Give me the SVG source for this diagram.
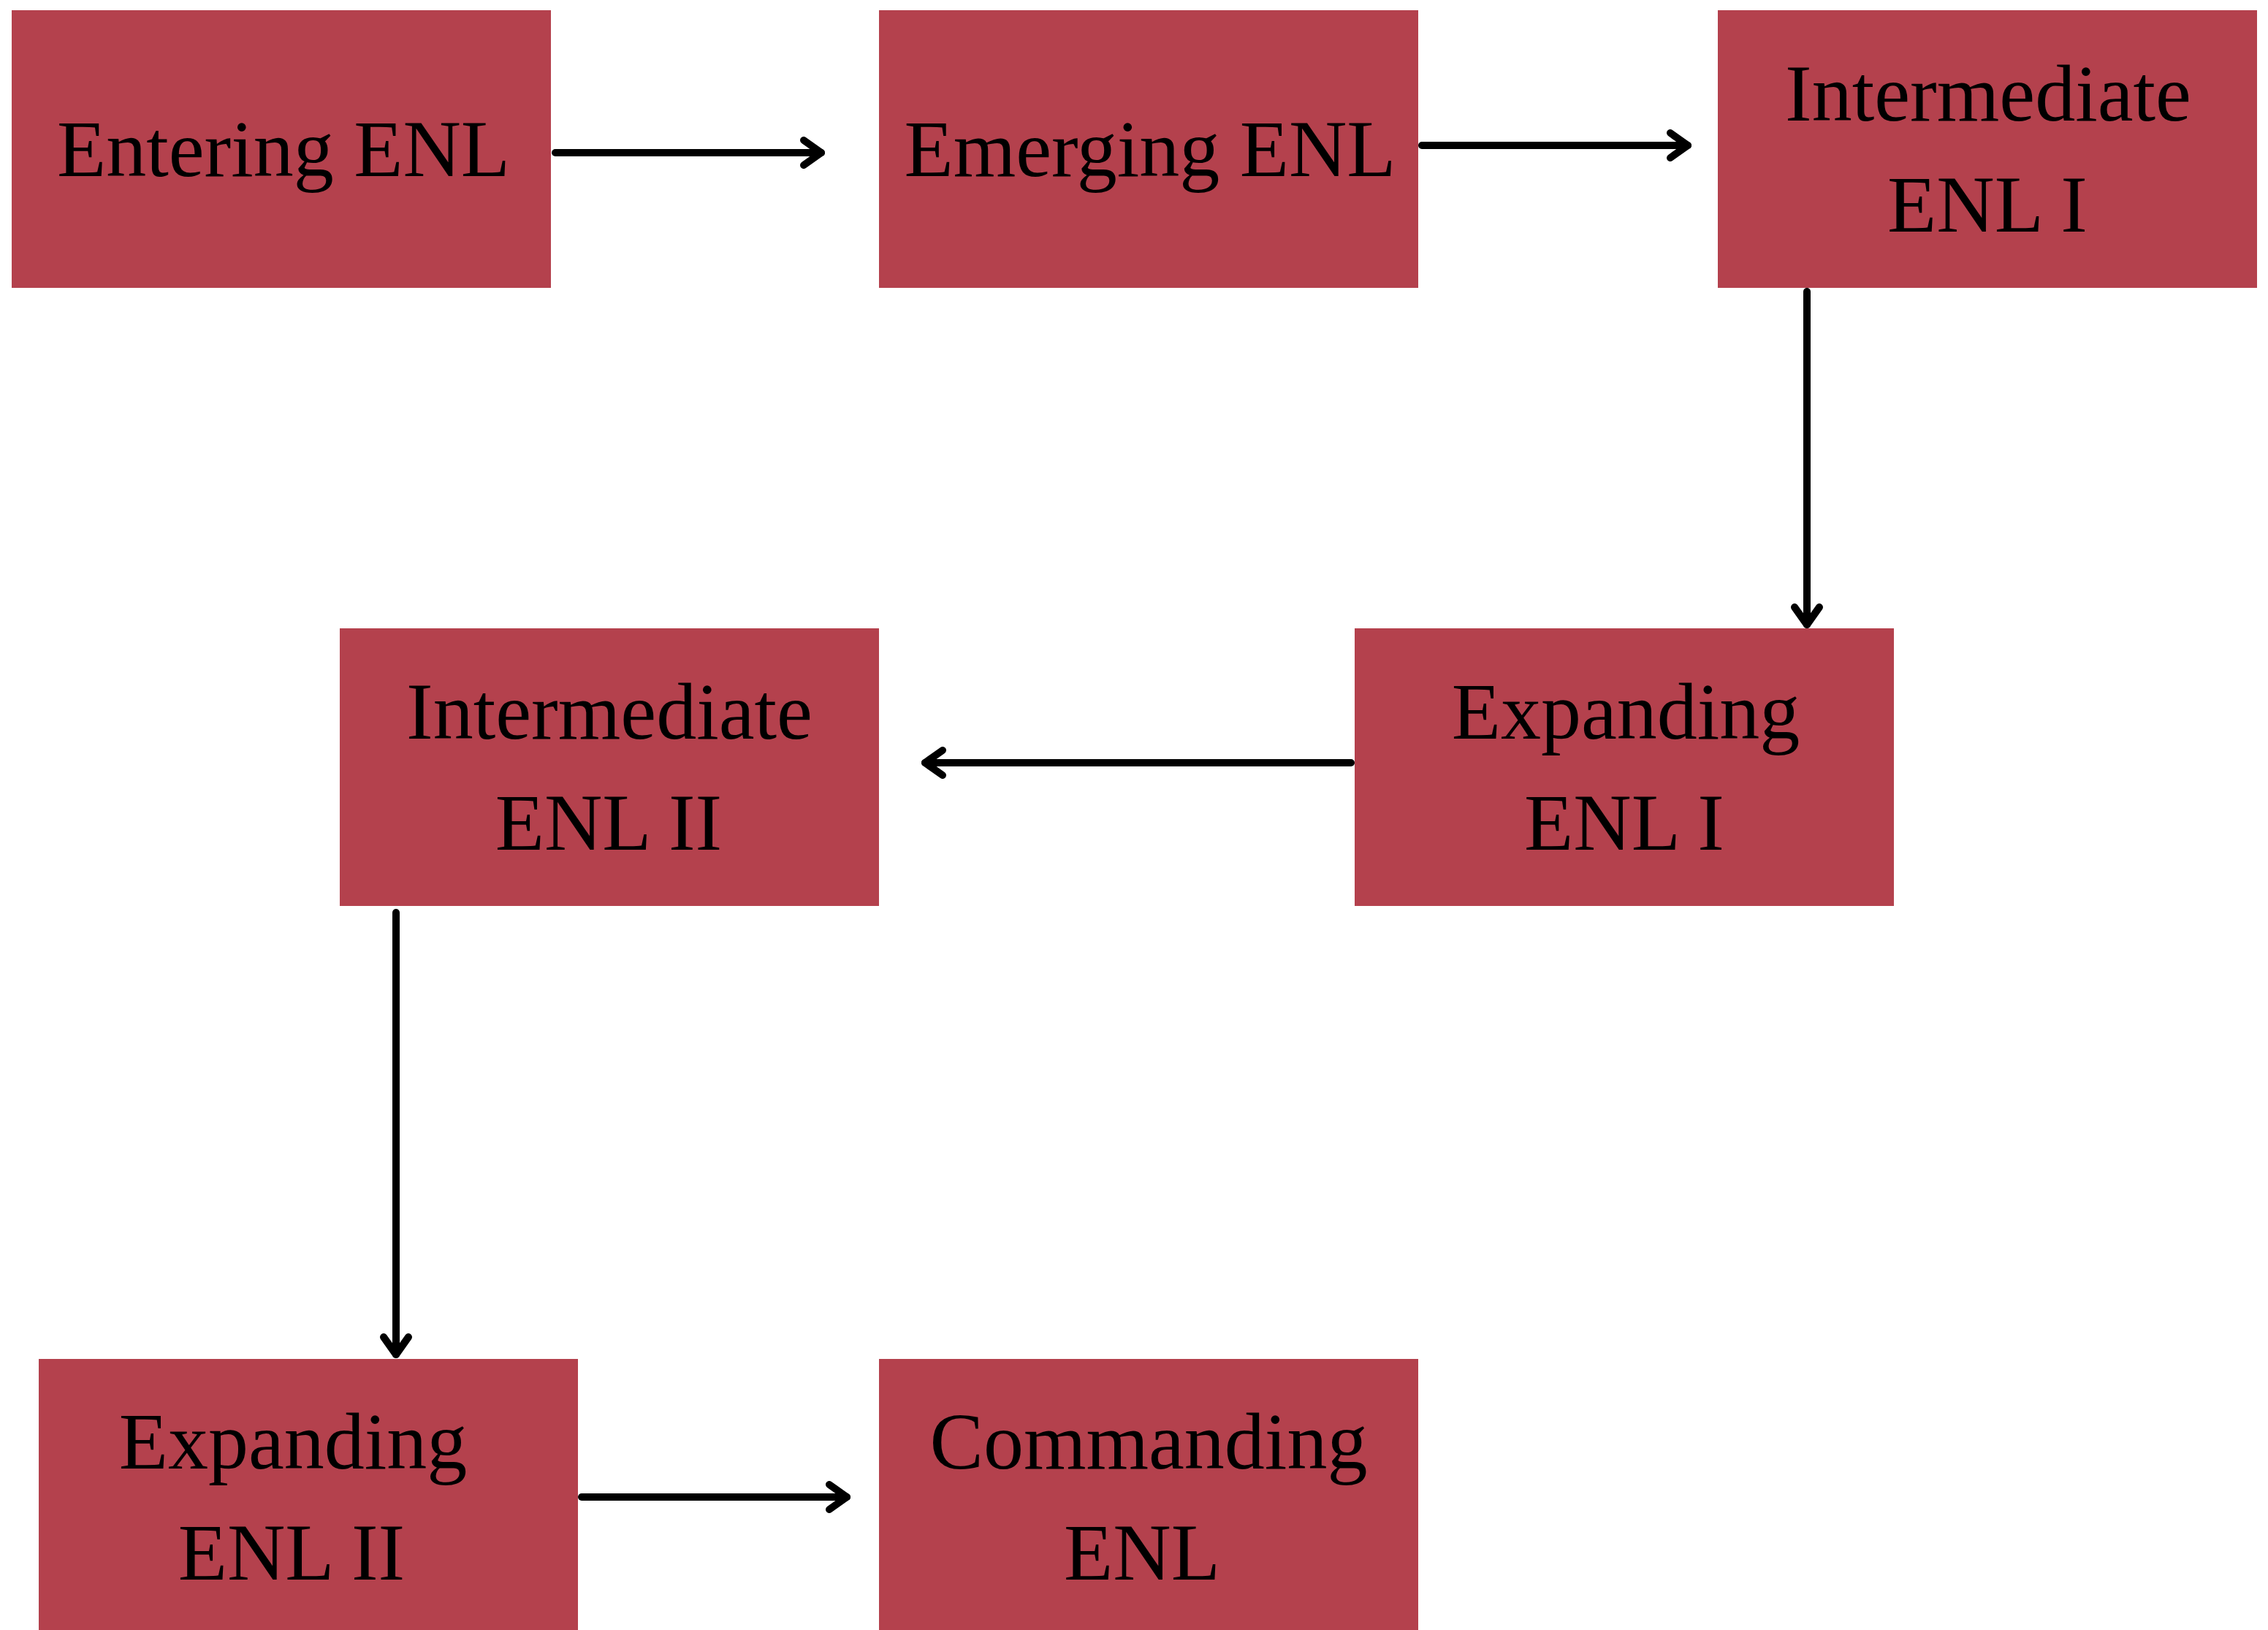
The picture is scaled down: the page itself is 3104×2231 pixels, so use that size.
<svg xmlns="http://www.w3.org/2000/svg" width="3104" height="2231" viewBox="0 0 3104 2231">
  <style>
    .box { fill: #B4414D; }
    .label { font-family: "Liberation Serif", "Times New Roman", serif; font-size: 110px; fill: #000000; text-anchor: middle; }
    .wire { fill: none; stroke: #000000; stroke-width: 10; stroke-linecap: round; stroke-linejoin: round; }
    .head { fill: none; stroke: #000000; stroke-width: 10; stroke-linecap: round; stroke-linejoin: round; }
  </style>
  <defs>
    <marker id="chevron" viewBox="-34 -26 42 52" markerWidth="42" markerHeight="52" refX="0" refY="0" markerUnits="userSpaceOnUse" orient="auto">
      <path class="head" d="M -24 -17 L 0 0 L -24 17"/>
    </marker>
  </defs>
  <rect width="3104" height="2231" fill="#ffffff"/>

  <g id="connectors">
    <path class="wire" d="M 760 209 L 1124 209" marker-end="url(#chevron)"/>
    <path class="wire" d="M 1946 199 L 2310 199" marker-end="url(#chevron)"/>
    <path class="wire" d="M 2473 399 L 2473 855" marker-end="url(#chevron)"/>
    <path class="wire" d="M 1849 1044 L 1266 1044" marker-end="url(#chevron)"/>
    <path class="wire" d="M 542 1249 L 542 1854" marker-end="url(#chevron)"/>
    <path class="wire" d="M 796 2049 L 1159 2049" marker-end="url(#chevron)"/>
  </g>

  <g id="node-entering">
    <rect class="box" x="16" y="14" width="738" height="380"/>
    <text class="label" x="388" y="241">Entering ENL</text>
  </g>
  <g id="node-emerging">
    <rect class="box" x="1203" y="14" width="738" height="380"/>
    <text class="label" x="1574" y="241">Emerging ENL</text>
  </g>
  <g id="node-intermediate-1">
    <rect class="box" x="2351" y="14" width="738" height="380"/>
    <text class="label" x="2721" y="165">Intermediate</text>
    <text class="label" x="2720" y="317">ENL I</text>
  </g>
  <g id="node-expanding-1">
    <rect class="box" x="1854" y="860" width="738" height="380"/>
    <text class="label" x="2225" y="1011">Expanding</text>
    <text class="label" x="2223" y="1163">ENL I</text>
  </g>
  <g id="node-intermediate-2">
    <rect class="box" x="465" y="860" width="738" height="380"/>
    <text class="label" x="834" y="1011">Intermediate</text>
    <text class="label" x="833" y="1163">ENL II</text>
  </g>
  <g id="node-expanding-2">
    <rect class="box" x="53" y="1860" width="738" height="380"/>
    <text class="label" x="401" y="2010">Expanding</text>
    <text class="label" x="399" y="2162">ENL II</text>
  </g>
  <g id="node-commanding">
    <rect class="box" x="1203" y="1860" width="738" height="380"/>
    <text class="label" x="1572" y="2010">Commanding</text>
    <text class="label" x="1563" y="2162">ENL</text>
  </g>
</svg>
